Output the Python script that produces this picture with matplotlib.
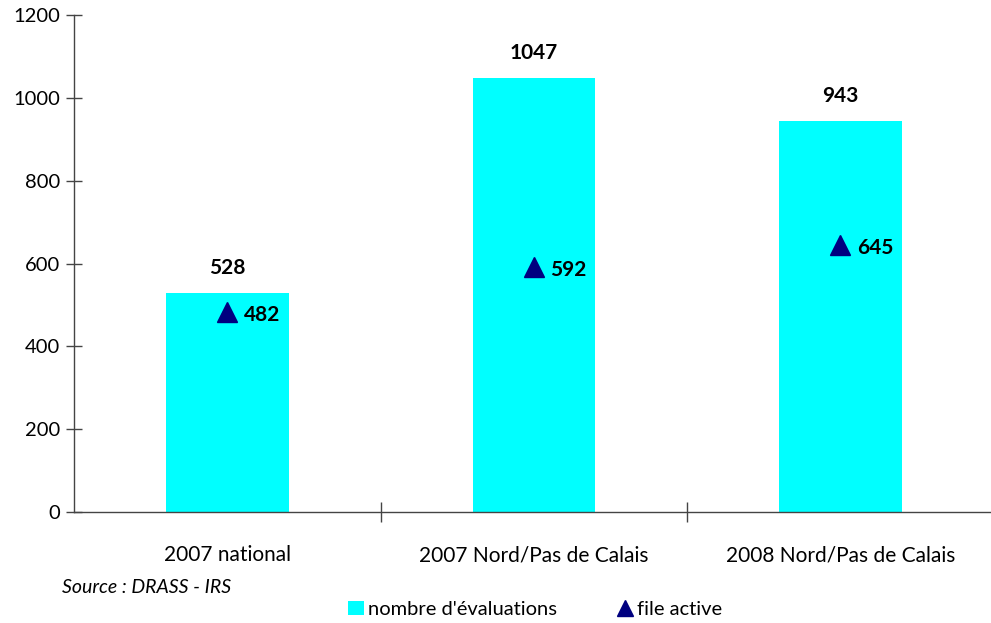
import matplotlib
matplotlib.use("Agg")
import matplotlib.pyplot as plt
from matplotlib.lines import Line2D
from matplotlib.patches import Patch

categories = ["2007 national", "2007 Nord/Pas de Calais", "2008 Nord/Pas de Calais"]
evaluations = [528, 1047, 943]
file_active = [482, 592, 645]
yticks = [0, 200, 400, 600, 800, 1000, 1200]

plt.rcParams['font.family'] = ['Lato', 'DejaVu Sans']

fig = plt.figure(figsize=(9.91, 6.23), dpi=100)
ax = fig.add_axes([0.0747, 0.178, 0.928, 0.798])

x = list(range(len(categories)))
ax.bar(x, evaluations, width=0.4, color="#00FFFF", zorder=2)
ax.plot(x, file_active, linestyle="none", marker="^", markersize=14,
        color="#000080", zorder=3)

for xi, v in zip(x, evaluations):
    ax.annotate(str(v), (xi, v), xytext=(0, 11), textcoords="offset points",
                ha="center", va="bottom", fontsize=15, fontweight="bold")
for xi, v in zip(x, file_active):
    ax.annotate(str(v), (xi, v), xytext=(12, -2), textcoords="offset points",
                ha="left", va="center", fontsize=15, fontweight="bold")

ax.set_xlim(-0.5, 2.5)
ax.set_ylim(0, 1200)
ax.set_yticks(yticks)
ax.set_yticklabels([str(t) for t in yticks], fontsize=14.5)
ax.tick_params(axis="y", direction="inout", length=12, width=1, color="#444444", pad=4)

ax.set_xticks(x)
ax.set_xticklabels(categories, fontsize=15)
ax.tick_params(axis="x", which="major", length=0, pad=24)
ax.set_xticks([0.5, 1.5], minor=True)
ax.tick_params(axis="x", which="minor", direction="inout", length=14, width=1, color="#444444")

for s in ["top", "right"]:
    ax.spines[s].set_visible(False)
for s in ["left", "bottom"]:
    ax.spines[s].set_color("#444444")
    ax.spines[s].set_linewidth(1)

fig.text(0.063, 0.048, "Source : DRASS - IRS", fontsize=14, style="italic")

handles = [Patch(facecolor="#00FFFF", edgecolor="none"),
           Line2D([], [], linestyle="none", marker="^", markersize=12, color="#000080")]
fig.legend(handles, ["nombre d'évaluations", "file active"], loc="center",
           bbox_to_anchor=(0.54, 0.022), ncol=2, frameon=False, fontsize=14.5,
           handlelength=0.8, handletextpad=0.2, columnspacing=3.0)

fig.savefig("out.png", dpi=100)
